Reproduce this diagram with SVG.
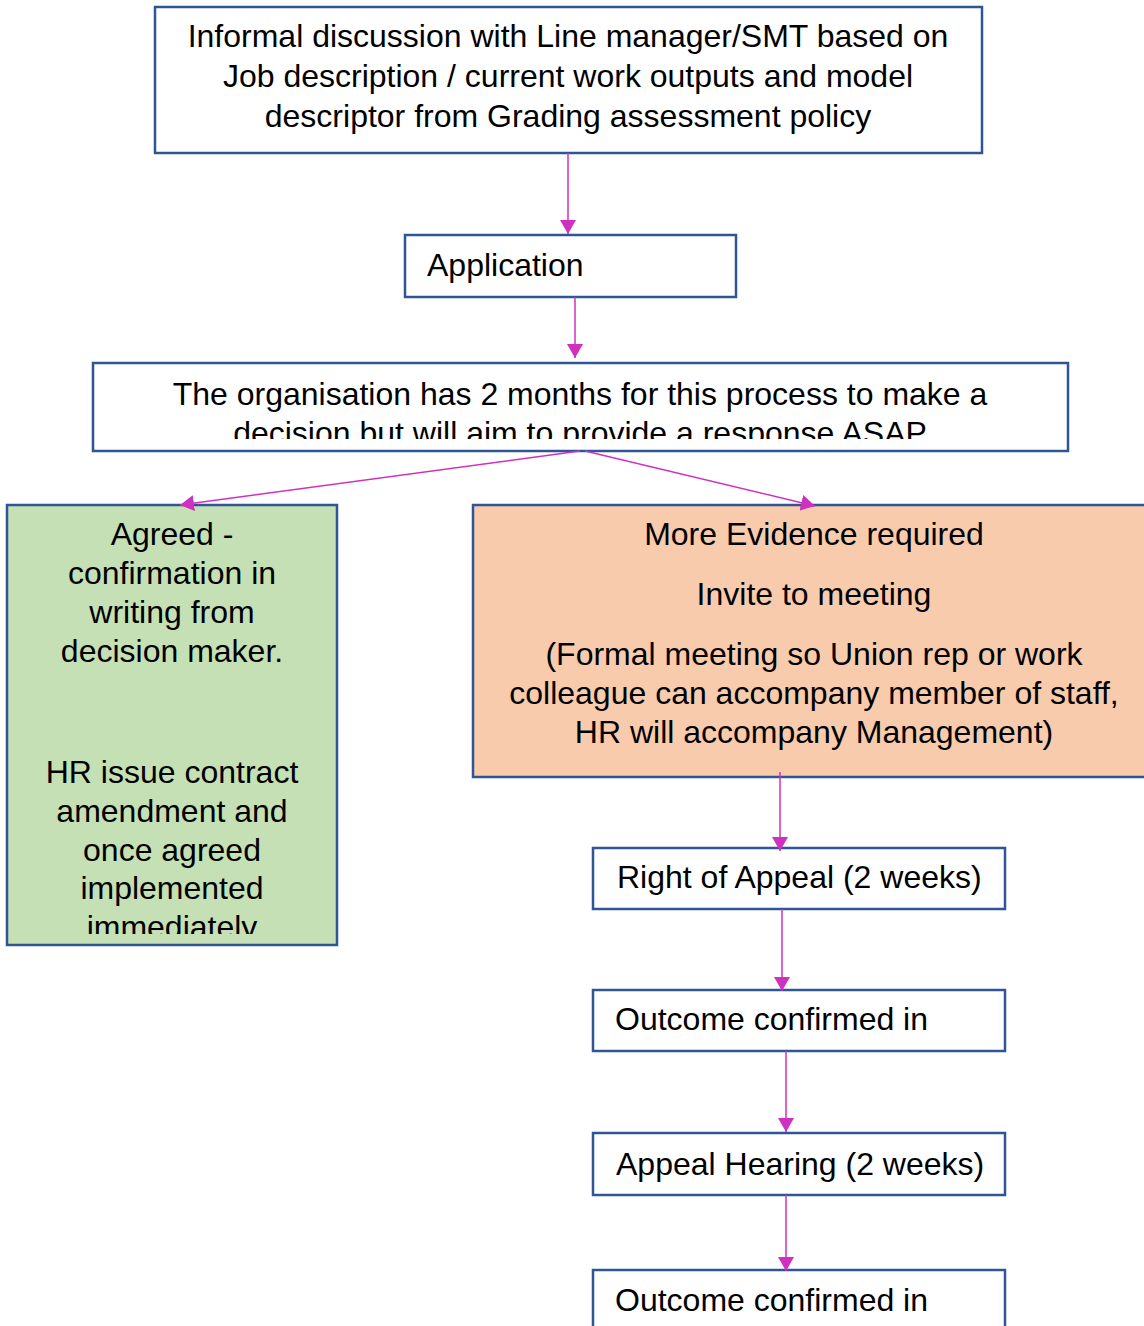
<svg xmlns="http://www.w3.org/2000/svg" width="1144" height="1326" viewBox="0 0 1144 1326">
<defs>
<style>
.box{fill:#fff;stroke:#2F5597;stroke-width:2.5}
.g{fill:#C5E0B4}
.o{fill:#F8CBAD}
text{font-family:"Liberation Sans",Arial,sans-serif;font-size:32px;fill:#000}
.c{text-anchor:middle}
.con line{stroke:#D030C0;stroke-width:1.5;marker-end:url(#ah)}
</style>
<marker id="ah" viewBox="0 0 14 16" refX="14" refY="8" markerWidth="14" markerHeight="16" markerUnits="userSpaceOnUse" orient="auto">
<path d="M0,0 L14,8 L0,16 z" fill="#D030C0"/>
</marker>
<clipPath id="c3"><rect x="93" y="363" width="975" height="76"/></clipPath>
<clipPath id="cg"><rect x="7" y="505" width="330" height="429"/></clipPath>
</defs>
<g id="n1">
<rect class="box" x="155" y="7" width="827" height="146"/>
<text class="c" x="568" y="47">Informal discussion with Line manager/SMT based on</text>
<text class="c" x="568" y="87">Job description / current work outputs and model</text>
<text class="c" x="568" y="127">descriptor from Grading assessment policy</text>
</g>
<g id="n2">
<rect class="box" x="405" y="235" width="331" height="62"/>
<text x="427" y="276">Application</text>
</g>
<g id="n3">
<rect class="box" x="93" y="363" width="975" height="88"/>
<g clip-path="url(#c3)">
<text class="c" x="580" y="405">The organisation has 2 months for this process to make a</text>
<text class="c" x="580" y="444">decision but will aim to provide a response ASAP</text>
</g>
</g>
<g id="n4">
<rect class="box g" x="7" y="505" width="330" height="440"/>
<g clip-path="url(#cg)">
<text class="c" x="172" y="545">Agreed -</text>
<text class="c" x="172" y="584">confirmation in</text>
<text class="c" x="172" y="623">writing from</text>
<text class="c" x="172" y="662">decision maker.</text>
<text class="c" x="172" y="783">HR issue contract</text>
<text class="c" x="172" y="822">amendment and</text>
<text class="c" x="172" y="861">once agreed</text>
<text class="c" x="172" y="899">implemented</text>
<text class="c" x="172" y="938">immediately</text>
</g>
</g>
<g id="n5">
<rect class="box o" x="473" y="505" width="680" height="272"/>
<text class="c" x="814" y="545">More Evidence required</text>
<text class="c" x="814" y="605">Invite to meeting</text>
<text class="c" x="814" y="665">(Formal meeting so Union rep or work</text>
<text class="c" x="814" y="704">colleague can accompany member of staff,</text>
<text class="c" x="814" y="743">HR will accompany Management)</text>
</g>
<g id="n6">
<rect class="box" x="593" y="848" width="412" height="61"/>
<text x="617" y="888">Right of Appeal (2 weeks)</text>
</g>
<g id="n7">
<rect class="box" x="593" y="990" width="412" height="61"/>
<text x="615" y="1030">Outcome confirmed in</text>
</g>
<g id="n8">
<rect class="box" x="593" y="1133" width="412" height="62"/>
<text x="616" y="1175">Appeal Hearing (2 weeks)</text>
</g>
<g id="n9">
<rect class="box" x="593" y="1270" width="412" height="70"/>
<text x="615" y="1311">Outcome confirmed in</text>
</g>
<g class="con" id="connectors">
<line x1="568" y1="153" x2="568" y2="234"/>
<line x1="575" y1="297" x2="575" y2="358"/>
<line x1="580" y1="451" x2="180" y2="505"/>
<line x1="585" y1="451" x2="815" y2="506"/>
<line x1="780" y1="772" x2="780" y2="851"/>
<line x1="782" y1="909" x2="782" y2="991"/>
<line x1="786" y1="1051" x2="786" y2="1132"/>
<line x1="786" y1="1195" x2="786" y2="1271"/>
</g>
</svg>
